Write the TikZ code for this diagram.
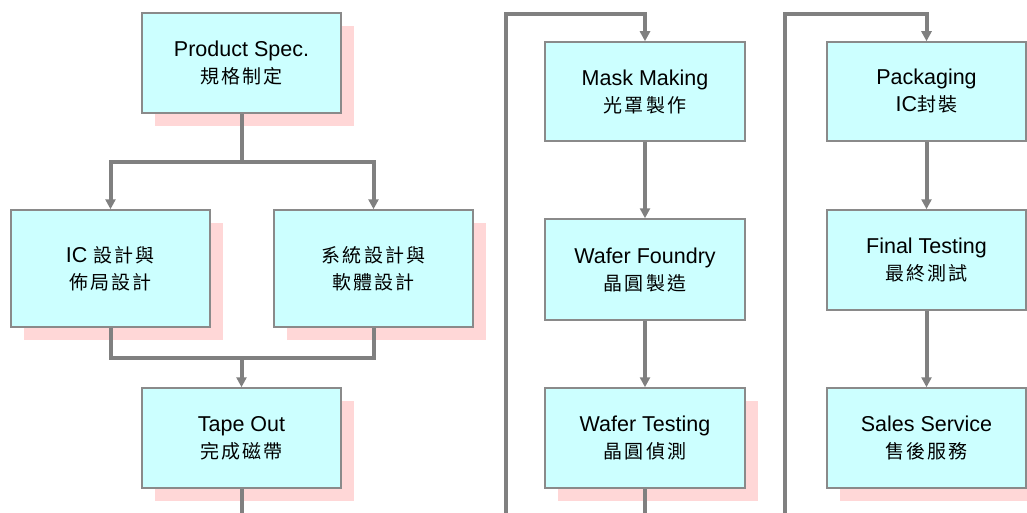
\documentclass[tikz,border=0pt]{standalone}
\usepackage{fontspec}
\setmainfont{Liberation Sans}
\newfontfamily\cjk[LetterSpace=12]{Noto Sans CJK TC}
\usepackage{tikz}
\usetikzlibrary{arrows.meta}
\usetikzlibrary{shadows}
\definecolor{boxfill}{HTML}{CCFFFF}
\definecolor{boxline}{HTML}{8A8A8A}
\definecolor{linegray}{HTML}{808080}
\definecolor{shadowpink}{HTML}{FFD7D7}
\newcommand{\zh}[1]{{\cjk\fontsize{19}{27}\selectfont #1}}
\tikzstyle{flowbox}=[rectangle, draw=boxline, line width=1.5pt, fill=boxfill,
    minimum width=199pt, minimum height=100pt, inner sep=0pt,
    align=center, font=\fontsize{21.5}{27}\selectfont]
\tikzstyle{flowbox_shadow}=[flowbox,
    drop shadow={fill=shadowpink, opacity=1, shadow xshift=13pt, shadow yshift=-13pt}]
\tikzstyle{conn}=[draw=linegray, line width=4pt]
\tikzstyle{conn_arrow}=[conn, -{Triangle[width=10pt,length=10pt]}]

\begin{document}
\begin{tikzpicture}[x=1pt,y=-1pt]
\useasboundingbox (0,0) rectangle (1027,513);
% left column
\node[flowbox_shadow] (spec) at (241.5,63){Product Spec.\\\zh{規格制定}};
\node[flowbox_shadow, minimum height=117pt] (icd) at (110.5,268.5){IC \zh{設計與}\\\zh{佈局設計}};
\node[flowbox_shadow, minimum height=117pt] (sysd) at (373.5,268.5){\zh{系統設計與}\\\zh{軟體設計}};
\node[flowbox_shadow] (tape) at (241.5,438){Tape Out\\\zh{完成磁帶}};
\coordinate (split) at (241.5,162);
\coordinate (merge) at (241.5,358);
\coordinate (tapeend) at (241.5,513);
\draw[conn](spec) -- (split);
\draw[conn_arrow](split) -| (icd);
\draw[conn_arrow](split) -| (sysd);
\draw[conn](icd) |- (merge);
\draw[conn](sysd) |- (merge);
\draw[conn_arrow](merge) -- (tape);
\draw[conn](tape) -- (tapeend);
% middle column
\node[flowbox, minimum width=200pt, minimum height=99pt] (mask) at (645,91.5){Mask Making\\\zh{光罩製作}};
\node[flowbox, minimum width=200pt, minimum height=101pt] (fab) at (645,269.5){Wafer Foundry\\\zh{晶圓製造}};
\node[flowbox_shadow, minimum width=200pt] (wtest) at (645,438){Wafer Testing\\\zh{晶圓偵測}};
\coordinate (link1) at (506,513);
\coordinate (link1top) at (506,14);
\coordinate (wtestend) at (645,513);
\draw[conn_arrow](link1) -- (link1top) -| (mask);
\draw[conn_arrow](mask) -- (fab);
\draw[conn_arrow](fab) -- (wtest);
\draw[conn](wtest) -- (wtestend);
% right column
\node[flowbox, minimum height=99pt] (pkg) at (926.5,91.5){Packaging\\IC\zh{封裝}};
\node[flowbox] (ftest) at (926.5,260){Final Testing\\\zh{最終測試}};
\node[flowbox_shadow] (sales) at (926.5,438){Sales Service\\\zh{售後服務}};
\coordinate (link2) at (785,513);
\coordinate (link2top) at (785,14);
\draw[conn_arrow](link2) -- (link2top) -| (pkg);
\draw[conn_arrow](pkg) -- (ftest);
\draw[conn_arrow](ftest) -- (sales);
\end{tikzpicture}
\end{document}
